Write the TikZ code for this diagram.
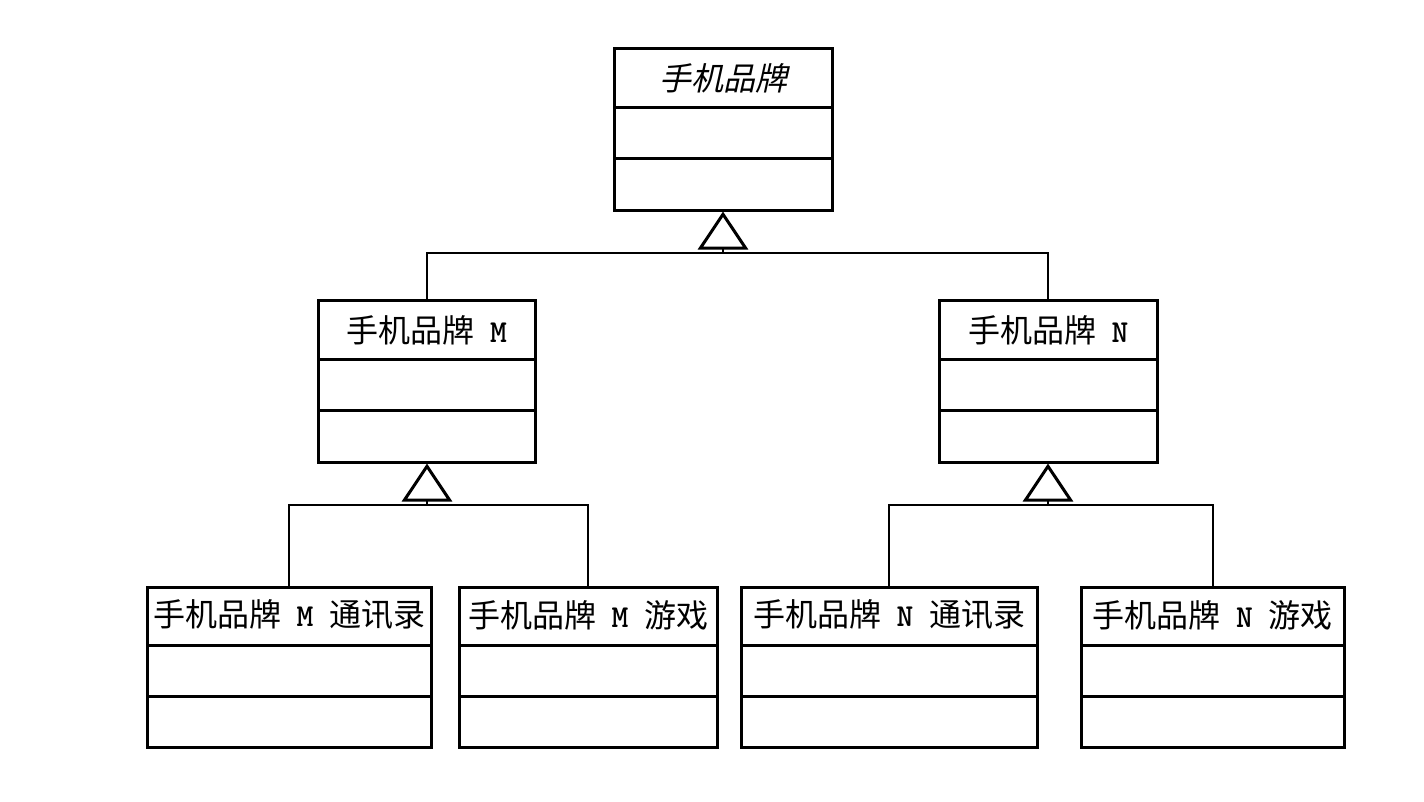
\documentclass[tikz,border=0pt]{standalone}
\usepackage{fontspec}
\usetikzlibrary{arrows.meta}
\newfontfamily\cjk{Noto Sans CJK SC}
\newfontfamily\cjkslant[FakeSlant=0.22]{Noto Sans CJK SC}
% half-width Latin letter between half-width spaces
\newcommand{\hw}[1]{\hspace{0.5em}\makebox[0.5em]{\ttfamily\bfseries #1}\hspace{0.5em}}
\tikzset{
  classbox/.style={draw, line width=3pt, inner sep=0pt, minimum height=162pt},
  lowbox/.style={classbox, minimum height=160pt},
  classname/.style={inner sep=0pt, font=\cjk\fontsize{32}{32}\selectfont},
  divider/.style={line width=3pt},
  link/.style={line width=1.5pt},
  inherit/.style={link, -{Triangle[open, length=38pt, width=50pt, line width=3pt]}},
}
\begin{document}
\begin{tikzpicture}[x=1pt, y=-1pt]
\useasboundingbox (0,0) rectangle (1424,801);

% abstract root class
\node[classbox, minimum width=218pt] (root) at (723,129) {};
\node[classname, font=\cjkslant\fontsize{32}{32}\selectfont] (rootname) at (723,78) {手机品牌};
\draw[divider] (614,107) -- (832,107);
\draw[divider] (614,158) -- (832,158);

% brand M
\node[classbox, minimum width=217pt] (bm) at (426.5,381) {};
\node[classname] (bmname) at (426.5,330) {手机品牌\hw{M}};
\draw[divider] (318,359) -- (535,359);
\draw[divider] (318,410) -- (535,410);

% brand N
\node[classbox, minimum width=218pt] (bn) at (1048,381) {};
\node[classname] (bnname) at (1048,330) {手机品牌\hw{N}};
\draw[divider] (939,359) -- (1157,359);
\draw[divider] (939,410) -- (1157,410);

% leaf classes
\node[lowbox, minimum width=284pt] (mc) at (289,667) {};
\node[classname] (mcname) at (289,615) {手机品牌\hw{M}通讯录};
\node[lowbox, minimum width=258pt] (mg) at (588,667) {};
\node[classname] (mgname) at (588,615) {手机品牌\hw{M}游戏};
\node[lowbox, minimum width=296pt] (nc) at (889,667) {};
\node[classname] (ncname) at (889,615) {手机品牌\hw{N}通讯录};
\node[lowbox, minimum width=263pt] (ng) at (1212.5,667) {};
\node[classname] (ngname) at (1212.5,615) {手机品牌\hw{N}游戏};
\foreach \l/\r in {147/431, 459/717, 741/1037, 1081/1344} {
  \draw[divider] (\l,645) -- (\r,645);
  \draw[divider] (\l,696) -- (\r,696);
}

% generalisation connectors
\coordinate (jroot) at (723,253);
\coordinate (jm) at (427,505);
\coordinate (jn) at (1048,505);

\draw[link] (bm.north -| jm) |- (jroot) -| (bn.north);
\draw[inherit] (jroot) -- (root.south);

\draw[link] (mc.north) |- (jm) -| (mg.north);
\draw[inherit] (jm) -- (bm.south -| jm);

\draw[link] (nc.north) |- (jn) -| (ng.north -| 1213,0);
\draw[inherit] (jn) -- (bn.south);
\end{tikzpicture}
\end{document}
